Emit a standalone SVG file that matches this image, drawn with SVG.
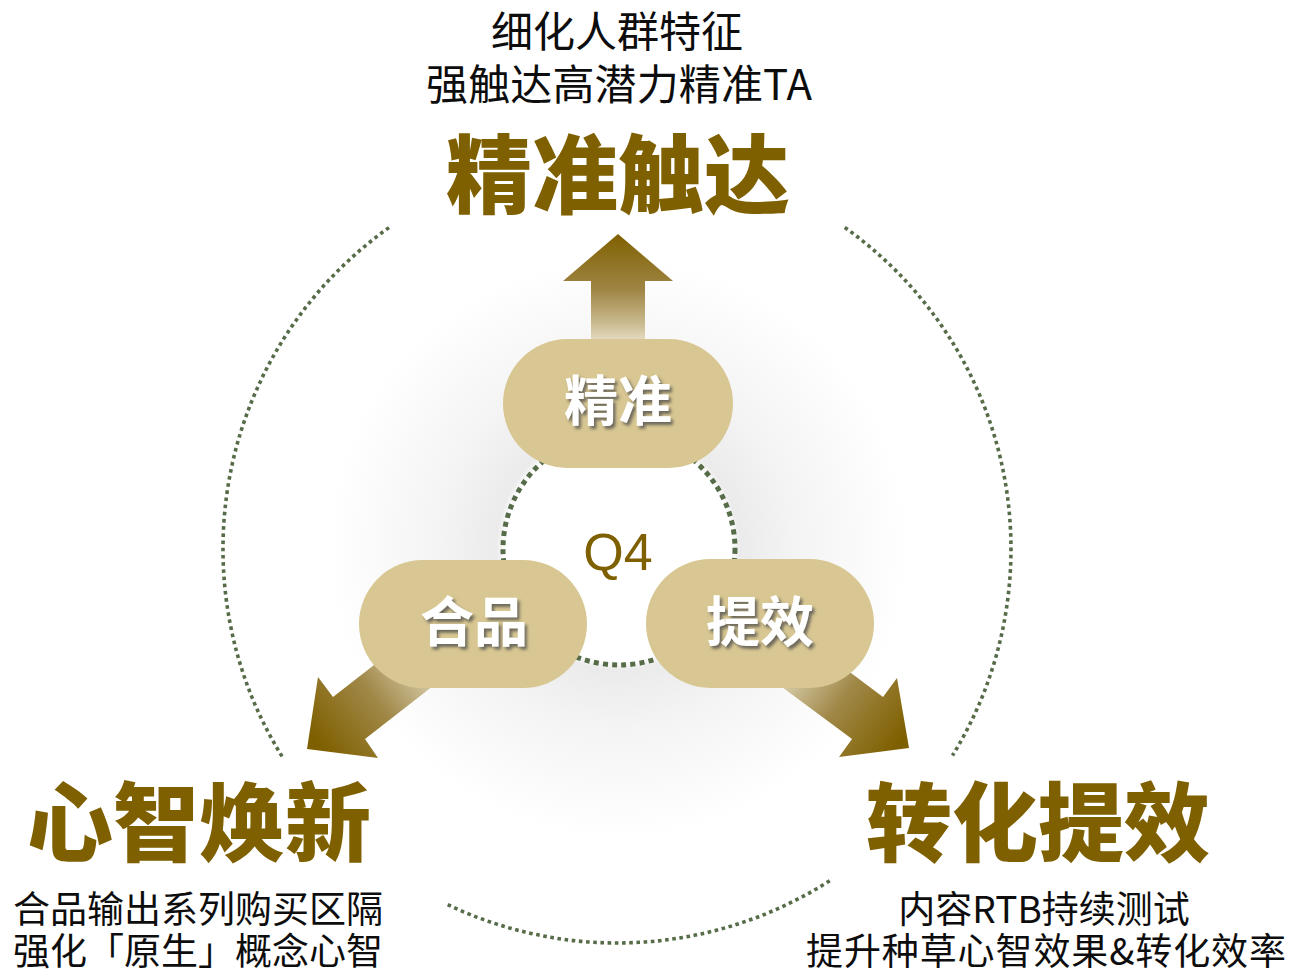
<svg xmlns="http://www.w3.org/2000/svg" width="1291" height="974" viewBox="0 0 1291 974">
  <defs>
    <style>
      .cjk { font-family: "Noto Sans CJK SC", "Noto Sans", sans-serif; }
      .desc { font-size: 42px; fill: #0d0d0d; font-weight: 400; text-anchor: middle; }
      .desc2 { font-size: 37px; fill: #0d0d0d; font-weight: 400; text-anchor: middle; }
      .title { font-size: 86px; fill: #7F6000; font-weight: 900; text-anchor: middle; }
      .pill { fill: #D8C792; }
      .pilltext { font-size: 54px; fill: #ffffff; font-weight: 700; text-anchor: middle; }
      .bigdots { fill: none; stroke: #566B47; stroke-width: 3.6; stroke-dasharray: 3.6 3.6; }
      .innerdots { fill: none; stroke: #566B47; stroke-width: 5; stroke-dasharray: 5 4.2; }
    </style>
    <radialGradient id="glow" cx="618" cy="548" r="290" gradientUnits="userSpaceOnUse">
      <stop offset="0" stop-color="#ffffff"/>
      <stop offset="0.39" stop-color="#ffffff"/>
      <stop offset="0.42" stop-color="#ebebeb"/>
      <stop offset="0.62" stop-color="#f4f4f4"/>
      <stop offset="1" stop-color="#ffffff"/>
    </radialGradient>
    <linearGradient id="gUp" x1="0" y1="234" x2="0" y2="345" gradientUnits="userSpaceOnUse">
      <stop offset="0" stop-color="#7F6000"/>
      <stop offset="0.5" stop-color="#9f8544"/>
      <stop offset="0.8" stop-color="#c9b98e"/>
      <stop offset="1" stop-color="#ece4cf"/>
    </linearGradient>
    <linearGradient id="gLeft" x1="318" y1="742" x2="445" y2="645" gradientUnits="userSpaceOnUse">
      <stop offset="0" stop-color="#7F6000"/>
      <stop offset="0.45" stop-color="#a08848"/>
      <stop offset="0.8" stop-color="#d6cba8"/>
      <stop offset="1" stop-color="#f6f2e8"/>
    </linearGradient>
    <linearGradient id="gRight" x1="898" y1="742" x2="772" y2="648" gradientUnits="userSpaceOnUse">
      <stop offset="0" stop-color="#7F6000"/>
      <stop offset="0.45" stop-color="#a08848"/>
      <stop offset="0.8" stop-color="#d6cba8"/>
      <stop offset="1" stop-color="#f6f2e8"/>
    </linearGradient>
    <filter id="tshadow" x="-20%" y="-20%" width="140%" height="150%">
      <feDropShadow dx="2.5" dy="3" stdDeviation="1.5" flood-color="#4a4a4a" flood-opacity="0.75"/>
    </filter>
  </defs>

  <rect x="0" y="0" width="1291" height="974" fill="#ffffff"/>

  <!-- soft glow behind centre -->
  <circle cx="618" cy="548" r="290" fill="url(#glow)"/>

  <g id="connectors">
    <!-- large dotted ring, split around the titles -->
    <path class="bigdots" d="M 389 227.6 A 394 394 0 0 0 283.6 758.9"/>
    <path class="bigdots" d="M 844.8 227.5 A 394 394 0 0 1 952.5 755.5"/>
    <path class="bigdots" d="M 447.7 904.7 A 394 394 0 0 0 832.3 879"/>
    <!-- arrows -->
    <polygon fill="url(#gUp)" points="618,234 673,281 645,281 645,350 591,350 591,281 563,281"/>
    <polygon fill="url(#gLeft)" points="307,749 318,677 333,697 451,605 483,647 365,739 378,758"/>
    <polygon fill="url(#gRight)" points="909,748 897,678 883,697 763,607 732,650 852,739 839,757"/>
  </g>

  <g id="node-center">
    <circle cx="619" cy="549" r="116" fill="#ffffff" class="innerdots"/>
    <text x="618" y="570" font-family="'Liberation Sans', Arial, sans-serif" font-size="52" fill="#7F6000" text-anchor="middle">Q4</text>
  </g>

  <g id="node-jingzhun">
    <rect class="pill" x="503" y="339" width="230" height="129" rx="64.5"/>
    <text class="cjk pilltext" x="618" y="421" filter="url(#tshadow)">精准</text>
  </g>

  <g id="node-hepin">
    <rect class="pill" x="359" y="560" width="228" height="128" rx="64"/>
    <text class="cjk pilltext" x="474" y="642" filter="url(#tshadow)">合品</text>
  </g>

  <g id="node-tixiao">
    <rect class="pill" x="646" y="559" width="228" height="129" rx="64.5"/>
    <text class="cjk pilltext" x="760" y="642" filter="url(#tshadow)">提效</text>
  </g>

  <g id="label-top">
    <text class="cjk desc" x="617" y="47">细化人群特征</text>
    <text class="cjk desc" x="619" y="100" textLength="386" lengthAdjust="spacing">强触达高潜力精准TA</text>
    <text class="cjk title" x="618" y="207">精准触达</text>
  </g>

  <g id="label-left">
    <text class="cjk title" x="199" y="855">心智焕新</text>
    <text class="cjk desc2" x="198" y="923">合品输出系列购买区隔</text>
    <text class="cjk desc2" x="198" y="965">强化「原生」概念心智</text>
  </g>

  <g id="label-right">
    <text class="cjk title" x="1038" y="855">转化提效</text>
    <text class="cjk desc2" x="1044" y="923">内容RTB持续测试</text>
    <text class="cjk desc2" x="1046" y="965" textLength="480" lengthAdjust="spacing">提升种草心智效果&amp;转化效率</text>
  </g>
</svg>
